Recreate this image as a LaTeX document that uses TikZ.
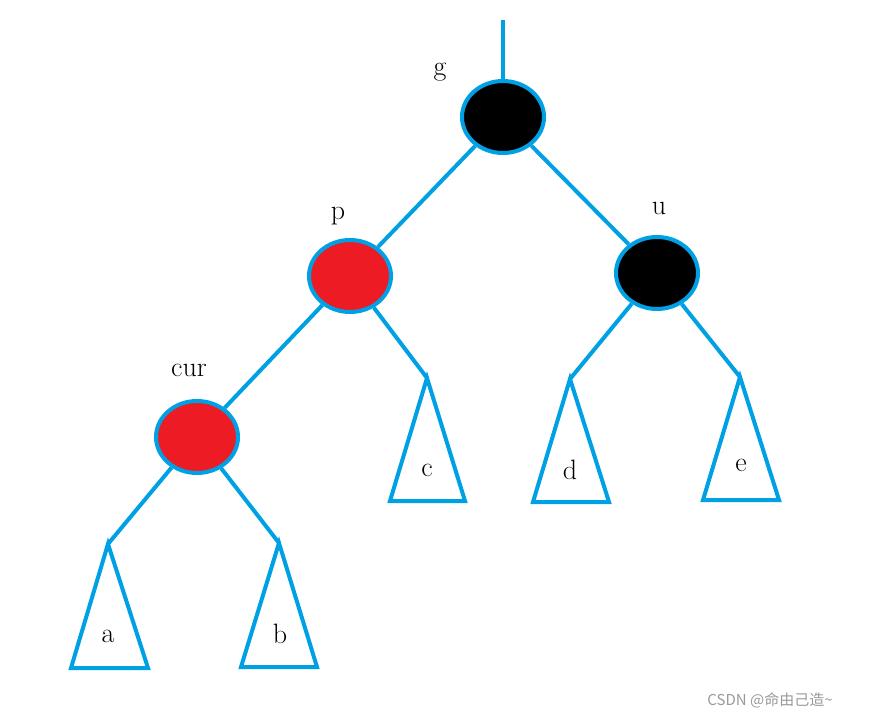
\documentclass[tikz,border=0pt]{standalone}
\usepackage{fontspec}
\usetikzlibrary{shapes.geometric}
\newfontfamily\cjk{Noto Sans CJK SC}
\definecolor{treeblue}{RGB}{0,160,228}
\definecolor{nodered}{RGB}{237,28,36}
\begin{document}
\begin{tikzpicture}[x=1pt,y=-1pt,
    line width=4pt,
    every node/.style={inner sep=0pt},
    rb/.style={draw=treeblue,ellipse,minimum width=82pt,minimum height=72pt},
    lbl/.style={font=\fontsize{28}{30}\selectfont}]
    \useasboundingbox (0,0) rectangle (869,719);
    % nodes
    \node [rb,fill=black] (g) at (503,117) {};
    \node [rb,fill=nodered] (p) at (350,276) {};
    \node [rb,fill=black] (u) at (657,273) {};
    \node [rb,fill=nodered] (cur) at (197,437) {};
    \coordinate (top) at (503,20);
    \coordinate (tc) at (427,378);
    \coordinate (td) at (570,379);
    \coordinate (te) at (740,377);
    \coordinate (ta) at (108,544);
    \coordinate (tb) at (279,543);
    % edges
    \draw [treeblue] (top) -- (g);
    \draw [treeblue] (g) -- (p);
    \draw [treeblue] (g) -- (u);
    \draw [treeblue] (p) -- (cur);
    \draw [treeblue] (p) -- (tc);
    \draw [treeblue] (u) -- (td);
    \draw [treeblue] (u) -- (te);
    \draw [treeblue] (cur) -- (ta);
    \draw [treeblue] (cur) -- (tb);
    % subtrees
    \draw [treeblue,line join=miter] (tc) -- ++(-37,123) -- ++(75,0) -- cycle;
    \draw [treeblue,line join=miter] (td) -- ++(-37,123) -- ++(76,0) -- cycle;
    \draw [treeblue,line join=miter] (te) -- ++(-37,123) -- ++(76,0) -- cycle;
    \draw [treeblue,line join=miter] (ta) -- ++(-37,124) -- ++(77,0) -- cycle;
    \draw [treeblue,line join=miter] (tb) -- ++(-38,124) -- ++(76,0) -- cycle;
    % labels
    \node [lbl] (lg) at (440,72) {g};
    \node [lbl] (lp) at (338,216) {p};
    \node [lbl] (lu) at (659,208) {u};
    \node [lbl] (lcur) at (189,370) {cur};
    \node [lbl] (lc) at (427,470) {c};
    \node [lbl] (ld) at (570,470) {d};
    \node [lbl] (le) at (741,465) {e};
    \node [lbl] (la) at (108,636) {a};
    \node [lbl] (lb) at (280,634) {b};
    \node [font=\cjk\fontsize{15}{17}\selectfont,text=gray!80] (wm) at (770,700) {CSDN @命由己造\textasciitilde};
\end{tikzpicture}
\end{document}
